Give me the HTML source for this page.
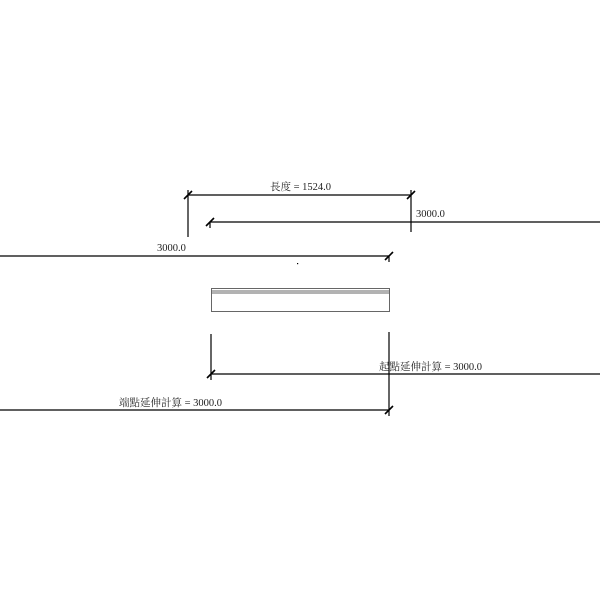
<!DOCTYPE html>
<html><head><meta charset="utf-8"><style>
html,body{margin:0;padding:0;background:#fff;}
svg text{font-family:"Liberation Serif","Noto Serif CJK SC",serif;font-size:10.5px;fill:#222;}
</style></head><body>
<svg width="600" height="600" viewBox="0 0 600 600" xmlns="http://www.w3.org/2000/svg">
<g stroke="#000" stroke-width="1.2" fill="none">
<!-- top dimension -->
<line x1="188" y1="195" x2="411" y2="195"/>
<line x1="188" y1="190" x2="188" y2="237"/>
<line x1="411" y1="190" x2="411" y2="232"/>
<line x1="184" y1="199" x2="192" y2="191" stroke-width="1.6"/>
<line x1="407" y1="199" x2="415" y2="191" stroke-width="1.6"/>
<!-- line 222 -->
<line x1="210" y1="222" x2="600" y2="222"/>
<line x1="206" y1="226" x2="214" y2="218" stroke-width="1.6"/>
<line x1="210" y1="222" x2="210" y2="228"/>
<!-- line 256 -->
<line x1="0" y1="256" x2="389" y2="256"/>
<line x1="385" y1="260" x2="393" y2="252" stroke-width="1.6"/>
<line x1="389" y1="256" x2="389" y2="262"/>
<!-- rectangle -->
<rect x="211.5" y="288.5" width="178" height="23" stroke="#666" stroke-width="1"/>
<line x1="211.5" y1="291" x2="389.5" y2="291" stroke="#666" stroke-width="1"/>
<line x1="211.5" y1="293" x2="389.5" y2="293" stroke="#666" stroke-width="1"/>
<!-- verticals -->
<line x1="211" y1="334" x2="211" y2="380"/>
<line x1="389" y1="332" x2="389" y2="416"/>
<!-- line 374 -->
<line x1="211" y1="374" x2="600" y2="374"/>
<line x1="207" y1="378" x2="215" y2="370" stroke-width="1.6"/>
<!-- line 410 -->
<line x1="0" y1="410" x2="389" y2="410"/>
<line x1="385" y1="414" x2="393" y2="406" stroke-width="1.6"/>
</g>
<rect x="297" y="263" width="1.2" height="1.2" fill="#000"/>
<text x="270" y="190">長度 = 1524.0</text>
<text x="416" y="217">3000.0</text>
<text x="157" y="251">3000.0</text>
<text x="379" y="370">起點延伸計算 = 3000.0</text>
<text x="119" y="406">端點延伸計算 = 3000.0</text>
</svg>
</body></html>
